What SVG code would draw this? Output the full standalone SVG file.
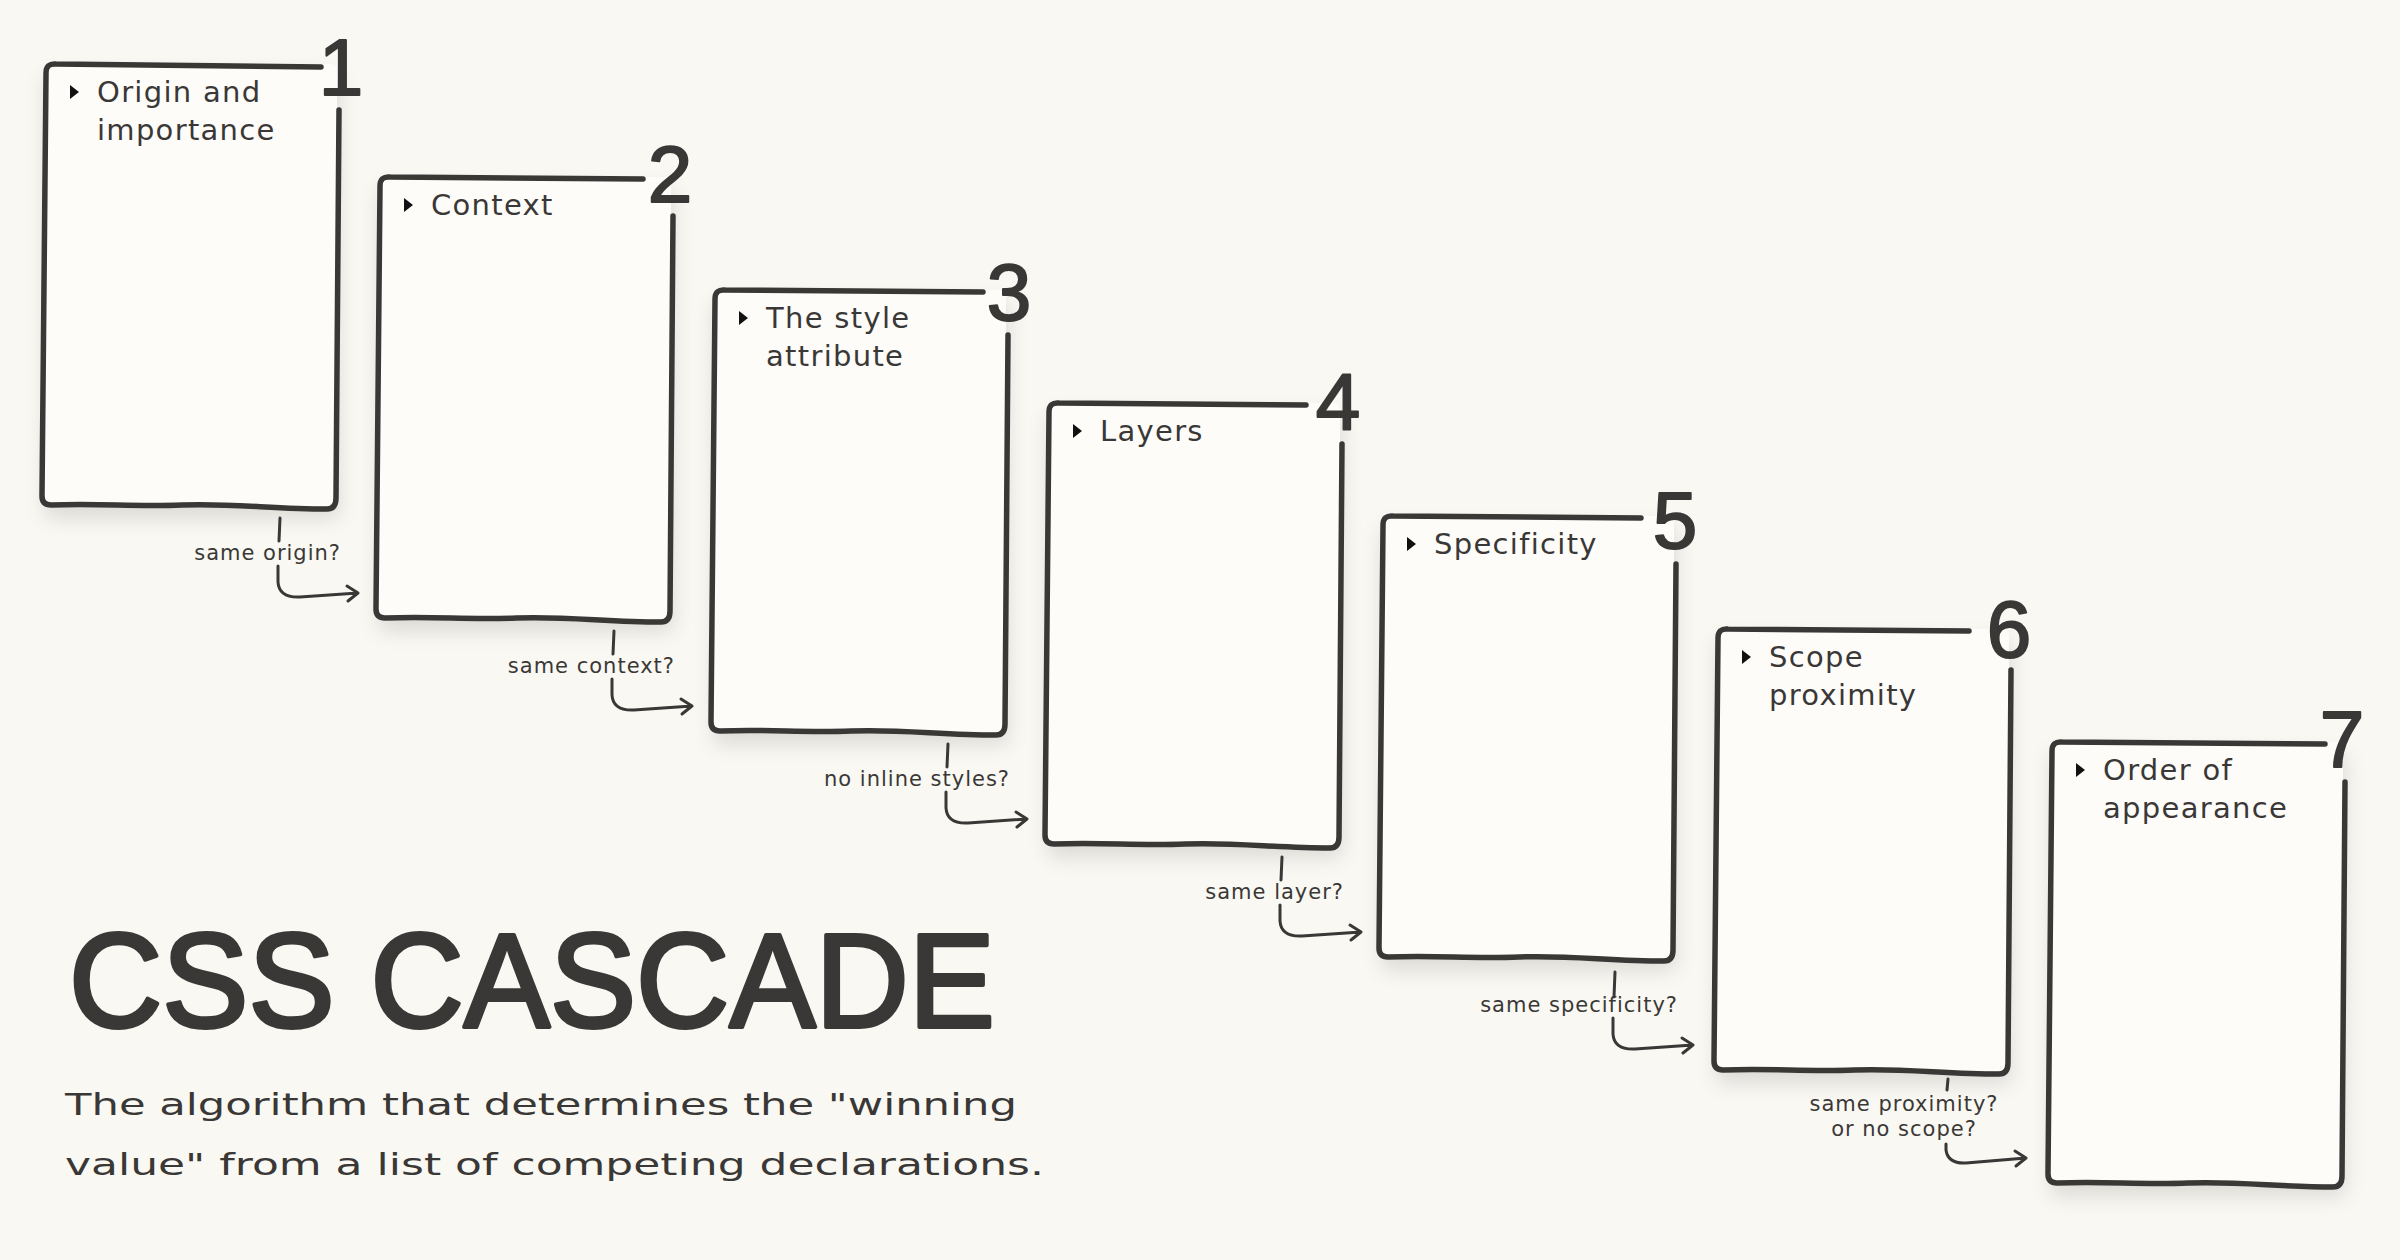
<svg xmlns="http://www.w3.org/2000/svg" width="2400" height="1260" viewBox="0 0 2400 1260">
<style>
.bg{fill:#faf8f3}
.card{fill:#fdfcf9;filter:url(#sh)}
.edge{fill:none;stroke:#3a3836;stroke-width:5.5;stroke-linecap:round;stroke-linejoin:round}
.num{font-family:"Liberation Sans",Arial,sans-serif;font-size:80px;fill:#3a3836;stroke:#3a3836;stroke-width:2;stroke-linejoin:round;text-anchor:middle}
.lbl{font-family:"DejaVu Sans",Verdana,sans-serif;font-size:29px;letter-spacing:1.3px;fill:#3a3836}
.tri{fill:#111}
.conn{fill:none;stroke:#3a3836;stroke-width:3;stroke-linecap:round;stroke-linejoin:round}
.q{font-family:"DejaVu Sans",Verdana,sans-serif;font-size:21px;letter-spacing:1px;fill:#3a3836;text-anchor:end}
.qm{text-anchor:middle}
.title{font-family:"Liberation Sans",Arial,sans-serif;font-size:134px;fill:#3a3836;stroke:#3a3836;stroke-width:4;stroke-linejoin:round}
.sub{font-family:"DejaVu Sans",Verdana,sans-serif;font-size:31px;fill:#3a3836}
</style>
<defs>
<filter id="sh" x="-20%" y="-20%" width="140%" height="140%">
<feDropShadow dx="2" dy="12" stdDeviation="10" flood-color="#000" flood-opacity="0.12"/>
</filter>
<path id="tri" d="M0 0 L9 7 L0 14 Z"/>
</defs>
<rect class="bg" x="0" y="0" width="2400" height="1260"/>

<g id="node1" transform="translate(42,63)">
<rect class="card" x="1" y="1" width="294" height="442" rx="6"/>
<path class="edge" d="M279 4 L14 1 Q4 0 4 10 L0 433 Q0 442 9 442 C60 440 90 444 140 442 C190 440 230 446 285 446 Q294 446 294 435 L297 47"/>
<text class="num" x="299" y="32">1</text>
<use href="#tri" class="tri" x="28" y="22"/>
<text class="lbl" x="55" y="39">Origin and</text>
<text class="lbl" x="55" y="77">importance</text>
</g>

<g id="node2" transform="translate(376,176)">
<rect class="card" x="1" y="1" width="294" height="442" rx="6"/>
<path class="edge" d="M267 3 L14 1 Q4 0 4 10 L0 433 Q0 442 9 442 C60 440 90 444 140 442 C190 440 230 446 285 446 Q294 446 294 435 L297 40"/>
<text class="num" x="294" y="26">2</text>
<use href="#tri" class="tri" x="28" y="22"/>
<text class="lbl" x="55" y="39">Context</text>
</g>

<g id="node3" transform="translate(711,289)">
<rect class="card" x="1" y="1" width="294" height="442" rx="6"/>
<path class="edge" d="M272 3 L14 1 Q4 0 4 10 L0 433 Q0 442 9 442 C60 440 90 444 140 442 C190 440 230 446 285 446 Q294 446 294 435 L297 46"/>
<text class="num" x="298" y="31">3</text>
<use href="#tri" class="tri" x="28" y="22"/>
<text class="lbl" x="55" y="39">The style</text>
<text class="lbl" x="55" y="77">attribute</text>
</g>

<g id="node4" transform="translate(1045,402)">
<rect class="card" x="1" y="1" width="294" height="442" rx="6"/>
<path class="edge" d="M261 3 L14 1 Q4 0 4 10 L0 433 Q0 442 9 442 C60 440 90 444 140 442 C190 440 230 446 285 446 Q294 446 294 435 L297 42"/>
<text class="num" x="293" y="27">4</text>
<use href="#tri" class="tri" x="28" y="22"/>
<text class="lbl" x="55" y="39">Layers</text>
</g>

<g id="node5" transform="translate(1379,515)">
<rect class="card" x="1" y="1" width="294" height="442" rx="6"/>
<path class="edge" d="M262 3 L14 1 Q4 0 4 10 L0 433 Q0 442 9 442 C60 440 90 444 140 442 C190 440 230 446 285 446 Q294 446 294 435 L297 49"/>
<text class="num" x="296" y="33">5</text>
<use href="#tri" class="tri" x="28" y="22"/>
<text class="lbl" x="55" y="39">Specificity</text>
</g>

<g id="node6" transform="translate(1714,628)">
<rect class="card" x="1" y="1" width="294" height="442" rx="6"/>
<path class="edge" d="M255 3 L14 1 Q4 0 4 10 L0 433 Q0 442 9 442 C60 440 90 444 140 442 C190 440 230 446 285 446 Q294 446 294 435 L297 42"/>
<text class="num" x="295" y="29">6</text>
<use href="#tri" class="tri" x="28" y="22"/>
<text class="lbl" x="55" y="39">Scope</text>
<text class="lbl" x="55" y="77">proximity</text>
</g>

<g id="node7" transform="translate(2048,741)">
<rect class="card" x="1" y="1" width="294" height="442" rx="6"/>
<path class="edge" d="M277 3 L14 1 Q4 0 4 10 L0 433 Q0 442 9 442 C60 440 90 444 140 442 C190 440 230 446 285 446 Q294 446 294 435 L297 41"/>
<text class="num" x="294" y="26">7</text>
<use href="#tri" class="tri" x="28" y="22"/>
<text class="lbl" x="55" y="39">Order of</text>
<text class="lbl" x="55" y="77">appearance</text>
</g>

<g id="connectors">
<g id="c1" transform="translate(42,63)">
<path class="conn" d="M238 455 L237 478 M236 503 L236 519 Q237 535 258 534 L316 530 M305 523 L316 530 L306 538"/>
<text class="q" x="299" y="497">same origin?</text>
</g>
<g id="c2" transform="translate(376,176)">
<path class="conn" d="M238 455 L237 478 M236 503 L236 519 Q237 535 258 534 L316 530 M305 523 L316 530 L306 538"/>
<text class="q" x="299" y="497">same context?</text>
</g>
<g id="c3" transform="translate(711,289)">
<path class="conn" d="M237 455 L236 478 M235 503 L235 519 Q236 535 257 534 L316 530 M305 523 L316 530 L306 538"/>
<text class="q" x="299" y="497">no inline styles?</text>
</g>
<g id="c4" transform="translate(1045,402)">
<path class="conn" d="M237 455 L236 478 M235 503 L235 519 Q236 535 257 534 L316 530 M305 523 L316 530 L306 538"/>
<text class="q" x="299" y="497">same layer?</text>
</g>
<g id="c5" transform="translate(1379,515)">
<path class="conn" d="M236 457 L235 482 M234 503 L234 519 Q235 535 256 534 L314 530 M303 523 L314 530 L304 538"/>
<text class="q" x="299" y="497">same specificity?</text>
</g>
<g id="c6" transform="translate(1714,628)">
<path class="conn" d="M234 451 L233 462 M232 516 L232 522 Q234 536 252 535 L312 530 M301 523 L312 530 L302 538"/>
<text class="q qm" x="190" y="483">same proximity?</text>
<text class="q qm" x="190" y="508">or no scope?</text>
</g>
</g>

<g id="heading">
<text class="title" x="69" y="1027" textLength="926" lengthAdjust="spacingAndGlyphs">CSS CASCADE</text>
<text class="sub" x="65" y="1115" textLength="952" lengthAdjust="spacingAndGlyphs">The algorithm that determines the "winning</text>
<text class="sub" x="65" y="1175" textLength="979" lengthAdjust="spacingAndGlyphs">value" from a list of competing declarations.</text>
</g>
</svg>
